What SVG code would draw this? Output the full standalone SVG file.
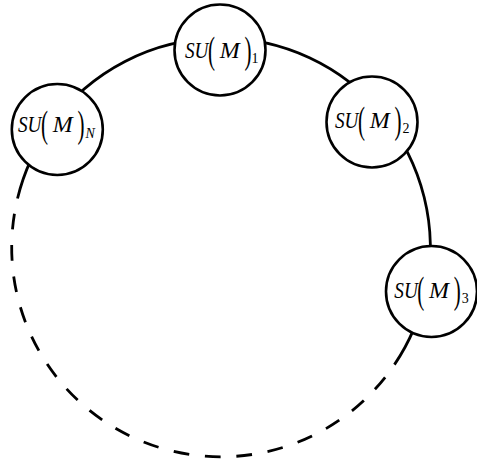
<svg xmlns="http://www.w3.org/2000/svg" width="477" height="466" viewBox="0 0 477 466">
<style>
.conn{fill:none;stroke:#000;stroke-width:2.8}
.dash{stroke-dasharray:15.75 15.75;stroke-dashoffset:15.75}
.node circle{fill:#fff;stroke:#000;stroke-width:2.6}
text{font-family:"Liberation Serif","Times New Roman",serif;fill:#000}
.it{font-style:italic;font-size:24px}
.up{font-style:normal}
.par{font-size:37px;font-style:normal}
.sub{font-size:14px;font-style:normal}
.subi{font-size:14px;font-style:italic}
</style>
<rect width="477" height="466" fill="#fff"/>
<g id="connectors">
<path class="conn" d="M51.03 125.37 A209.3 209.3 0 0 1 219.9 38.2"/>
<path class="conn" d="M219.9 38.2 A209.3 209.3 0 0 1 382.04 113.8"/>
<path class="conn" d="M382.04 113.8 A209.3 209.3 0 0 1 425.8 290.66"/>
<path class="conn" d="M425.8 290.66 A209.3 209.3 0 0 1 394.45 364.64"/>
<path class="conn dash" d="M394.45 364.64 A209.3 209.3 0 0 1 17.51 198.5"/>
<path class="conn" d="M17.51 198.5 A209.3 209.3 0 0 1 51.03 125.37"/>
</g>
<g id="node1" class="node">
<circle cx="220" cy="50" r="45.5"/>
<text class="it" transform="translate(185,58.3)"><tspan x="0" y="0" textLength="23.5" lengthAdjust="spacingAndGlyphs">SU</tspan><tspan class="par" x="23" y="5" textLength="7" lengthAdjust="spacingAndGlyphs">(</tspan><tspan x="34.7" y="0">M</tspan><tspan class="par" x="59.4" y="5" textLength="7" lengthAdjust="spacingAndGlyphs">)</tspan><tspan class="sub" x="66.5" y="4.7">1</tspan></text>
</g>
<g id="node2" class="node">
<circle cx="372" cy="122" r="45.5"/>
<text class="it" transform="translate(335,128.3)"><tspan x="0" y="0" textLength="23.5" lengthAdjust="spacingAndGlyphs">SU</tspan><tspan class="par" x="23" y="5" textLength="7" lengthAdjust="spacingAndGlyphs">(</tspan><tspan x="34.7" y="0">M</tspan><tspan class="par" x="59.4" y="5" textLength="7" lengthAdjust="spacingAndGlyphs">)</tspan><tspan class="sub" x="67.5" y="4.7">2</tspan></text>
</g>
<g id="node3" class="node">
<circle cx="431.5" cy="291.5" r="45.5"/>
<text class="it" transform="translate(394.3,298.3)"><tspan x="0" y="0" textLength="23.5" lengthAdjust="spacingAndGlyphs">SU</tspan><tspan class="par" x="23" y="5" textLength="7" lengthAdjust="spacingAndGlyphs">(</tspan><tspan x="34.7" y="0">M</tspan><tspan class="par" x="59.4" y="5" textLength="7" lengthAdjust="spacingAndGlyphs">)</tspan><tspan class="sub" x="67.5" y="4.7">3</tspan></text>
</g>
<g id="nodeN" class="node">
<circle cx="57.3" cy="129.5" r="45.5"/>
<text class="it" transform="translate(18,132.3)"><tspan x="0" y="0" textLength="23.5" lengthAdjust="spacingAndGlyphs">SU</tspan><tspan class="par" x="23" y="5" textLength="7" lengthAdjust="spacingAndGlyphs">(</tspan><tspan x="34.7" y="0">M</tspan><tspan class="par" x="59.4" y="5" textLength="7" lengthAdjust="spacingAndGlyphs">)</tspan><tspan class="subi" x="67.5" y="5.7">N</tspan></text>
</g>
</svg>
